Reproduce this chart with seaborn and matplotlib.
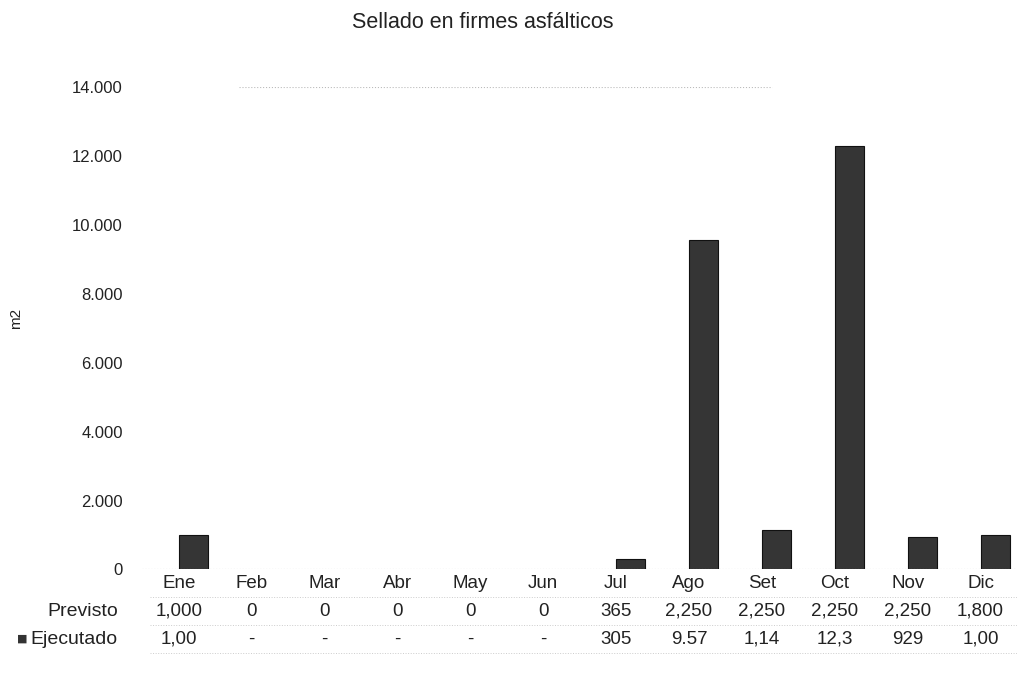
import pandas as pd
import matplotlib
matplotlib.use("Agg")
import matplotlib.pyplot as plt
import matplotlib.transforms as mtransforms
import seaborn as sns

meses = ["Ene", "Feb", "Mar", "Abr", "May", "Jun", "Jul", "Ago", "Set", "Oct", "Nov", "Dic"]
previsto = [1000, 0, 0, 0, 0, 0, 365, 2250, 2250, 2250, 2250, 1800]
ejecutado = [1000, 0, 0, 0, 0, 0, 305, 9570, 1140, 12300, 929, 1000]
previsto_txt = ["1,000", "0", "0", "0", "0", "0", "365", "2,250", "2,250", "2,250", "2,250", "1,800"]
ejecutado_txt = ["1,00", "-", "-", "-", "-", "-", "305", "9.57", "1,14", "12,3", "929", "1,00"]
yticks = [0, 2000, 4000, 6000, 8000, 10000, 12000, 14000]
ytick_txt = ["0", "2.000", "4.000", "6.000", "8.000", "10.000", "12.000", "14.000"]

df = pd.DataFrame({"Mes": meses * 2,
                   "Serie": ["Previsto"] * 12 + ["Ejecutado"] * 12,
                   "m2": previsto + ejecutado})

sns.set_theme(style="white")
plt.rcParams["font.family"] = ["Liberation Sans", "DejaVu Sans"]

fig = plt.figure(figsize=(10.17, 6.82), dpi=100)
ax = fig.add_axes([0.14, 0.165, 0.86, 0.707])

sns.barplot(data=df, x="Mes", y="m2", hue="Serie", order=meses,
            palette={"Previsto": "white", "Ejecutado": "#353535"},
            width=0.8, ax=ax, legend=False, edgecolor="none")
for p in ax.patches:
    if p.get_facecolor()[0] < 0.5 and p.get_height() > 0:
        p.set_edgecolor("#111111")
        p.set_linewidth(0.8)
    else:
        p.set_linewidth(0)

ax.set_ylim(0, 14000)
ax.set_xlim(-0.5, 11.5)
ax.set_yticks(yticks)
ax.set_yticklabels(ytick_txt, fontsize=12, color="#222222")
ax.tick_params(axis="y", length=0, pad=14)
ax.set_xticks([])
ax.set_xlabel("")
ax.set_ylabel("")
for s in ax.spines.values():
    s.set_visible(False)
ax.axhline(0, color="#999999", lw=0.8, ls=":")
ax.axhline(14000, xmin=0.11, xmax=0.72, color="#bbbbbb", lw=0.8, ls=":")

fig.text(16 / 1017, 1 - 318 / 682, "m2", rotation=90, ha="center", va="center",
         fontsize=11, color="#222222")
fig.text(483 / 1017, 1 - 22 / 682, "Sellado en firmes asfálticos", ha="center",
         va="center", fontsize=15.5, color="#222222")

# tabla de datos debajo del grafico
trans = mtransforms.blended_transform_factory(ax.transData, fig.transFigure)
for i, m in enumerate(meses):
    ax.text(i, 1 - 583 / 682, m, transform=trans, ha="center", va="center",
            fontsize=13.5, color="#222222")
    ax.text(i, 1 - 611 / 682, previsto_txt[i], transform=trans, ha="center",
            va="center", fontsize=13.5, color="#222222")
    ax.text(i, 1 - 639 / 682, ejecutado_txt[i], transform=trans, ha="center",
            va="center", fontsize=13.5, color="#222222")

fig.text(118 / 1017, 1 - 611 / 682, "Previsto", ha="right", va="center",
         fontsize=14, color="#222222")
fig.text(118 / 1017, 1 - 639 / 682, "Ejecutado", ha="right", va="center",
         fontsize=14, color="#222222")
fig.text(22 / 1017, 1 - 639 / 682, "■", ha="center", va="center",
         fontsize=8, color="#333333", family=["DejaVu Sans"])

for yy in [597, 625, 653]:
    fig.add_artist(plt.Line2D([150 / 1017, 1.0], [1 - yy / 682] * 2,
                              color="#cccccc", lw=0.7, ls=":"))

fig.savefig("out.png", dpi=100)
